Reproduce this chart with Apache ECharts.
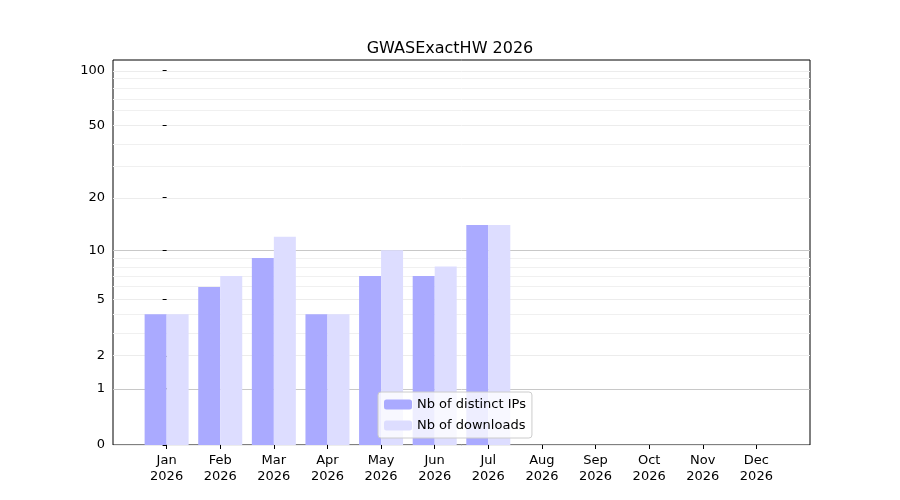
<!DOCTYPE html>
<html>
<head>
<meta charset="utf-8">
<script src="https://cdn.jsdelivr.net/npm/echarts@6/dist/echarts.min.js"></script>
<style>html,body{margin:0;padding:0;background:#fff}#chart{width:900px;height:500px}</style>
</head>
<body>
<div id="chart"></div>
<script>
var months = ['Jan', 'Feb', 'Mar', 'Apr', 'May', 'Jun', 'Jul', 'Aug', 'Sep', 'Oct', 'Nov', 'Dec'];
var distinctIPs = [4, 6, 9, 4, 7, 7, 14];
var downloads = [4, 7, 12, 4, 10, 8, 14];
var yTicks = [0, 1, 2, 5, 10, 20, 50, 100];
var minorTicks = [3, 4, 6, 7, 8, 9, 30, 40, 60, 70, 80, 90];

// scale used by the reference: log10(1 + v)
function f(v) { return Math.log10(1 + v); }
function finv(t) { return Math.round(Math.pow(10, t) - 1); }

var myChart = echarts.init(document.getElementById('chart'));
var font = 'DejaVu Sans';

var gridLines = [];
yTicks.forEach(function(v) {
  gridLines.push({yAxis: f(v), lineStyle: {color: (v == 1 || v == 10) ? '#c8c8c8' : '#ececec', width: 1, type: 'solid'}});
});
minorTicks.forEach(function(v) {
  gridLines.push({yAxis: f(v), lineStyle: {color: '#f0f0f0', width: 1, type: 'solid'}});
});

var option = {
  animation: false,
  textStyle: {fontFamily: font},
  title: {
    text: 'GWASExactHW 2026',
    left: 'center',
    top: 36,
    textStyle: {fontSize: 16, fontWeight: 'normal', color: '#000', fontFamily: font}
  },
  legend: {
    left: 378, top: 392,
    orient: 'vertical',
    itemWidth: 28, itemHeight: 10, itemGap: 8,
    padding: [6, 6],
    borderColor: '#ccc', borderWidth: 1, borderRadius: 3,
    backgroundColor: 'rgba(255,255,255,0.8)',
    textStyle: {fontSize: 13, color: '#000'},
    data: ['Nb of distinct IPs', 'Nb of downloads']
  },
  grid: {left: 113, right: 90, top: 60, bottom: 55, show: true, borderColor: '#000', borderWidth: 1},
  xAxis: {
    type: 'value', min: -1, max: 12, interval: 1,
    splitLine: {show: false},
    axisLine: {show: false},
    axisTick: {show: true, customValues: months.map(function(m, i) { return i; }), length: 4, lineStyle: {color: '#000'}},
    axisLabel: {
      customValues: months.map(function(m, i) { return i; }),
      formatter: function(v) { return months[v] + '\n2026'; },
      color: '#000', fontSize: 13, lineHeight: 16
    }
  },
  yAxis: {
    type: 'value', min: 0, max: f(113.5),
    splitLine: {show: false},
    axisLine: {show: false},
    axisTick: {show: true, customValues: yTicks.map(f), length: 4, lineStyle: {color: '#000'}},
    axisLabel: {
      customValues: yTicks.map(f),
      formatter: function(v) { return String(finv(v)); },
      color: '#000', fontSize: 13
    }
  },
  series: [{
    name: 'Nb of distinct IPs',
    type: 'bar',
    barWidth: 22, barGap: '0%',
    itemStyle: {color: '#aaaaff'},
    data: distinctIPs.map(function(v, i) { return [i, f(v)]; }),
    markLine: {silent: true, symbol: 'none', label: {show: false}, z: 0, data: gridLines},
    z: 2
  }, {
    name: 'Nb of downloads',
    type: 'bar',
    barWidth: 22, barGap: '0%',
    itemStyle: {color: '#ddddff'},
    data: downloads.map(function(v, i) { return [i, f(v)]; }),
    z: 2
  }]
};

myChart.setOption(option);
</script>
</body>
</html>
